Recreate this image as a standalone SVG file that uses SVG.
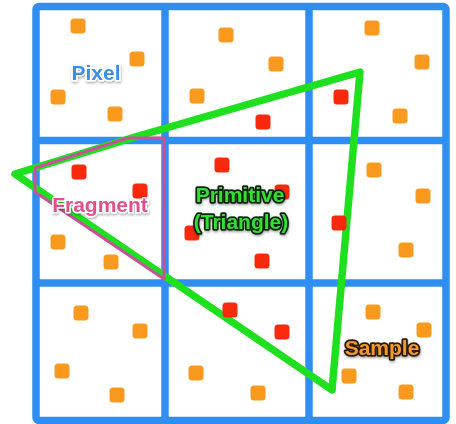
<svg xmlns="http://www.w3.org/2000/svg" width="456" height="424" viewBox="0 0 456 424">
<defs>
<style>
.grid{fill:none;stroke:#2F8EF1;stroke-width:7.5;stroke-linejoin:round}
.o{fill:#F99A1F}
.r{fill:#F8290C}
.tri{fill:none;stroke:#1FE01F;stroke-width:7.5;stroke-linejoin:round}
.frag{fill:none;stroke:#C8529A;stroke-width:3;stroke-linejoin:round}
.lbl{font-family:"Liberation Sans",Arial,sans-serif;font-weight:bold;font-size:21px;text-anchor:middle;paint-order:stroke;stroke-linejoin:round}
.pix{fill:#3A8EE6;stroke:#FFFFFF;stroke-width:3}
.fr{fill:#E3508B;stroke:#FFFFFF;stroke-width:3}
.pr{fill:#33E033;stroke:#0C220C;stroke-width:3.5}
.sa{fill:#F29A2E;stroke:#2A1A08;stroke-width:3.5}
</style>
<filter id="sh" x="-20%" y="-30%" width="140%" height="160%">
<feDropShadow dx="0.5" dy="1.5" stdDeviation="1" flood-color="#000" flood-opacity="0.35"/>
</filter>
<rect id="dot" x="-7.5" y="-7.5" width="15" height="15" rx="3.5"/>
</defs>
<g id="grid">
<rect class="grid" x="36" y="6.5" width="410" height="414" rx="3"/>
<line class="grid" x1="165" y1="6.5" x2="165" y2="420.5"/>
<line class="grid" x1="309" y1="6.5" x2="309" y2="420.5"/>
<line class="grid" x1="36" y1="140.5" x2="446" y2="140.5"/>
<line class="grid" x1="36" y1="283" x2="446" y2="283"/>
</g>
<g id="connectors">
<path id="primitive-triangle" class="tri" d="M15,174 L135,137 L360,72 L332,390 Z"/>
<path id="fragment-outline" class="frag" d="M35,168 L128,138 L164,138 L164,279 L35,192 Z"/>
</g>
<g id="samples">
<use href="#dot" class="o" x="78" y="26"/>
<use href="#dot" class="o" x="137" y="59"/>
<use href="#dot" class="o" x="58" y="97"/>
<use href="#dot" class="o" x="115" y="114"/>
<use href="#dot" class="o" x="226" y="35"/>
<use href="#dot" class="o" x="276" y="64"/>
<use href="#dot" class="o" x="197" y="96"/>
<use href="#dot" class="r" x="263" y="122"/>
<use href="#dot" class="o" x="372" y="28"/>
<use href="#dot" class="o" x="422" y="62"/>
<use href="#dot" class="o" x="400" y="116"/>
<use href="#dot" class="r" x="341" y="97"/>
<use href="#dot" class="r" x="79" y="172"/>
<use href="#dot" class="r" x="140" y="191"/>
<use href="#dot" class="o" x="58" y="242"/>
<use href="#dot" class="o" x="111" y="262"/>
<use href="#dot" class="r" x="222" y="165"/>
<use href="#dot" class="r" x="282" y="192"/>
<use href="#dot" class="r" x="192" y="233"/>
<use href="#dot" class="r" x="262" y="261"/>
<use href="#dot" class="o" x="374" y="170"/>
<use href="#dot" class="o" x="423" y="196"/>
<use href="#dot" class="o" x="406" y="250"/>
<use href="#dot" class="r" x="339" y="223"/>
<use href="#dot" class="o" x="81" y="313"/>
<use href="#dot" class="o" x="140" y="331"/>
<use href="#dot" class="o" x="62" y="371"/>
<use href="#dot" class="o" x="117" y="395"/>
<use href="#dot" class="r" x="230" y="310"/>
<use href="#dot" class="r" x="282" y="332"/>
<use href="#dot" class="o" x="196" y="373"/>
<use href="#dot" class="o" x="258" y="393"/>
<use href="#dot" class="o" x="373" y="312"/>
<use href="#dot" class="o" x="424" y="330"/>
<use href="#dot" class="o" x="349" y="376"/>
<use href="#dot" class="o" x="406" y="392"/>
</g>
<g id="label-pixel" filter="url(#sh)"><text class="lbl pix" x="96" y="80">Pixel</text></g>
<g id="label-fragment" filter="url(#sh)"><text class="lbl fr" x="100" y="212">Fragment</text></g>
<g id="label-primitive" filter="url(#sh)"><text class="lbl pr" x="240" y="202">Primitive</text><text class="lbl pr" x="241" y="229">(Triangle)</text></g>
<g id="label-sample" filter="url(#sh)"><text class="lbl sa" x="382" y="355">Sample</text></g>
</svg>
